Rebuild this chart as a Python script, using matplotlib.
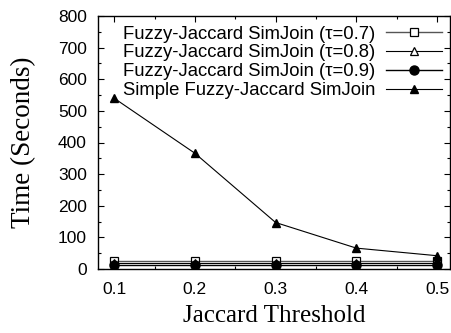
import matplotlib
matplotlib.use("Agg")
import matplotlib.pyplot as plt
from matplotlib.ticker import MultipleLocator

thresholds = [0.1, 0.2, 0.3, 0.4, 0.5]
fj_07 = [24, 24, 24, 24, 24]
fj_08 = [19, 19, 19, 19, 19]
fj_09 = [12, 12, 12, 12, 12]
simple_fj = [540, 366, 147, 66, 42]

labels = [u"Fuzzy-Jaccard SimJoin (\u03c4=0.7)",
          u"Fuzzy-Jaccard SimJoin (\u03c4=0.8)",
          u"Fuzzy-Jaccard SimJoin (\u03c4=0.9)",
          "Simple Fuzzy-Jaccard SimJoin"]

sans = "Liberation Sans"
serif = "Liberation Serif"

fig = plt.figure(figsize=(4.52, 3.33), dpi=100)
ax = fig.add_axes([98 / 452, 1 - 269 / 333, 352 / 452, 253 / 333])

ax.plot(thresholds, fj_07, color="#555555", lw=1.0, marker="s", ms=6,
        mfc="white", mec="black", mew=0.9, label=labels[0])
ax.plot(thresholds, fj_08, color="black", lw=0.8, marker="^", ms=6,
        mfc="white", mec="black", mew=0.9, label=labels[1])
ax.plot(thresholds, fj_09, color="black", lw=1.0, marker="o", ms=6.5,
        mfc="black", mec="black", label=labels[2])
ax.plot(thresholds, simple_fj, color="black", lw=0.8, marker="^", ms=6,
        mfc="black", mec="black", label=labels[3])

ax.set_xlim(0.08, 0.516)
ax.set_ylim(0, 800)
ax.xaxis.set_minor_locator(MultipleLocator(0.05))
ax.yaxis.set_minor_locator(MultipleLocator(50))
ax.tick_params(which="both", direction="in", top=True, right=True, width=0.8)
ax.tick_params(which="major", length=4, labelsize=12.5)
ax.tick_params(which="minor", length=2.5)
ax.tick_params(axis="x", pad=9)
ax.tick_params(axis="y", pad=8)
ax.set_xticks(thresholds)
ax.set_xticklabels(["0.1", "0.2", "0.3", "0.4", "0.5"], fontfamily=sans)
ax.set_yticks(range(0, 801, 100))
ax.set_yticklabels([str(v) for v in range(0, 801, 100)], fontfamily=sans)
for s in ax.spines.values():
    s.set_linewidth(1.0)

ax.set_xlabel("Jaccard Threshold", fontfamily=serif, fontsize=18, labelpad=6)
ax.set_ylabel("Time (Seconds)", fontfamily=serif, fontsize=19.5, labelpad=16)

leg = ax.legend(loc="upper right", bbox_to_anchor=(0.977, 0.962), frameon=False,
                markerfirst=False, handlelength=3.0, handletextpad=0.6,
                labelspacing=0.1, prop={"family": sans, "size": 13.3},
                borderaxespad=0, borderpad=0)

fig.savefig("out.png", dpi=100)
